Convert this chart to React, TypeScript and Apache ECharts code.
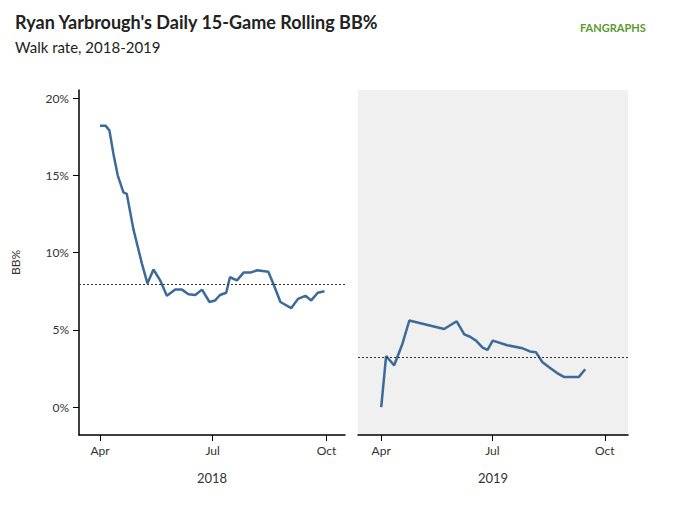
import { useEffect, useRef } from "react";
import * as echarts from "echarts";

// day of year, BB%
const days2018 = [91, 95.6, 98.6, 101.8, 105.3, 109.9, 112.6, 118, 124.8, 129.3, 134.2, 139.6, 145, 151.8, 157.2, 162.5, 168, 173.4, 179.5, 184, 188, 193, 196, 201.7, 207, 212.5, 218, 227, 231, 236.8, 245.5, 251, 257, 261.7, 267, 272.4];
const bb2018 = [18.2, 18.2, 17.9, 16.4, 15.0, 13.9, 13.8, 11.5, 9.3, 8.0, 8.9, 8.2, 7.2, 7.6, 7.6, 7.3, 7.25, 7.6, 6.8, 6.9, 7.25, 7.4, 8.4, 8.2, 8.7, 8.7, 8.85, 8.75, 8.0, 6.8, 6.4, 7.0, 7.2, 6.9, 7.4, 7.5];
const days2019 = [91, 95, 101.6, 108.4, 114, 142.5, 152.8, 159, 163.7, 168.6, 174, 178, 182.3, 194.2, 206.8, 212.7, 217.6, 223, 229, 235, 240.5, 252.8, 258];
const bb2019 = [0, 3.3, 2.7, 4.1, 5.6, 5.05, 5.55, 4.7, 4.55, 4.3, 3.85, 3.7, 4.3, 4.0, 3.8, 3.6, 3.55, 2.9, 2.55, 2.2, 1.95, 1.95, 2.45];
const avg2018 = 7.96;
const avg2019 = 3.2;
const monthTicks = [91, 182, 274];
const monthNames: Record<number, string> = { 91: "Apr", 182: "Jul", 274: "Oct" };
const yTicks = [0, 5, 10, 15, 20];

const lineColor = "#3b6a9b";
const font = "Lato";

export default function App() {
  const ref = useRef<HTMLDivElement>(null);

  useEffect(() => {
    document.body.style.margin = "0";
    if (!ref.current) return;
    const chart = echarts.init(ref.current, null, { renderer: "svg" });

    const xAxis = (gridIndex: number, year: string, min: number, max: number) => ({
      type: "value",
      gridIndex,
      min,
      max,
      name: year,
      nameLocation: "middle",
      nameGap: 36,
      nameTextStyle: { fontFamily: font, fontSize: 13, color: "#333" },
      splitLine: { show: false },
      axisLine: { show: true, onZero: false, lineStyle: { color: "#000", width: 1.5 } },
      axisTick: { show: true, customValues: monthTicks, length: 6, lineStyle: { color: "#000" } },
      axisLabel: {
        customValues: monthTicks,
        formatter: (v: number) => monthNames[Math.round(v)] || "",
        fontFamily: font,
        fontSize: 12,
        color: "#333",
        margin: 9
      }
    });

    const yAxis = (gridIndex: number, show: boolean) => ({
      type: "value",
      gridIndex,
      min: -1.81,
      max: 20.52,
      show,
      name: show ? "BB%" : "",
      nameLocation: "middle",
      nameGap: 58,
      nameTextStyle: { fontFamily: font, fontSize: 12, color: "#333" },
      splitLine: { show: false },
      axisLine: { show: true, lineStyle: { color: "#000", width: 1.5 } },
      axisTick: { show: true, customValues: yTicks, length: 6, lineStyle: { color: "#000" } },
      axisLabel: {
        customValues: yTicks,
        formatter: (v: number) => Math.round(v) + "%",
        fontFamily: font,
        fontSize: 12,
        color: "#333",
        margin: 10
      }
    });

    const series = (i: number, days: number[], vals: number[], avg: number) => ({
      type: "line",
      xAxisIndex: i,
      yAxisIndex: i,
      data: days.map((d, k) => [d, vals[k]]),
      showSymbol: false,
      lineStyle: { color: lineColor, width: 2.5 },
      markLine: {
        symbol: "none",
        silent: true,
        label: { show: false },
        lineStyle: { color: "#333", type: [2, 2], width: 1 },
        data: [{ yAxis: avg }]
      }
    });

    chart.setOption({
      animation: false,
      title: [
        {
          text: "Ryan Yarbrough's Daily 15-Game Rolling BB%",
          left: 10,
          top: 8,
          textStyle: { fontFamily: font, fontSize: 18, fontWeight: "bold", color: "#222" }
        },
        {
          text: "Walk rate, 2018-2019",
          left: 10,
          top: 34,
          textStyle: { fontFamily: font, fontSize: 15, fontWeight: "normal", color: "#222" }
        }
      ],
      graphic: [
        {
          type: "text",
          left: 580,
          top: 22,
          style: { text: "FANGRAPHS", fontFamily: font, fontSize: 11, fontWeight: "bold", fill: "#5a9b2e" }
        }
      ],
      grid: [
        { left: 79, top: 90, width: 266, height: 345 },
        { left: 358, top: 90, width: 270, height: 345, show: true, backgroundColor: "#f0f0f0", borderWidth: 0 }
      ],
      xAxis: [xAxis(0, "2018", 74, 289), xAxis(1, "2019", 72, 293)],
      yAxis: [yAxis(0, true), yAxis(1, false)],
      series: [series(0, days2018, bb2018, avg2018), series(1, days2019, bb2019, avg2019)]
    });

    return () => chart.dispose();
  }, []);

  return <div ref={ref} style={{ width: 677, height: 513 }} />;
}
